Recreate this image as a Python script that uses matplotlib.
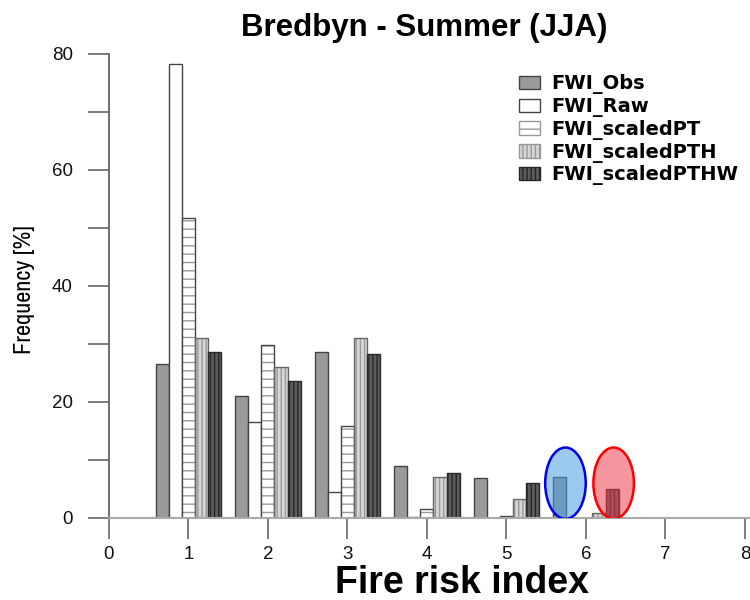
import matplotlib
matplotlib.use("Agg")
import matplotlib.pyplot as plt
from matplotlib.patches import Ellipse, Patch
from matplotlib import font_manager
import numpy as np

plt.rcParams['font.family'] = ['Liberation Sans', 'DejaVu Sans']
plt.rcParams['hatch.linewidth'] = 1.0

# Fire risk index classes
classes = [1, 2, 3, 4, 5, 6]

# Frequency [%] per class for each series
fwi_obs = [26.5, 21.0, 28.7, 8.9, 6.9, 7.0]
fwi_raw = [78.3, 16.6, 4.5, 0.15, 0.0, 0.0]
fwi_scaled_pt = [51.8, 29.8, 15.9, 1.5, 0.4, 0.0]
fwi_scaled_pth = [31.0, 26.1, 31.0, 7.0, 3.3, 0.9]
fwi_scaled_pthw = [28.7, 23.7, 28.3, 7.8, 6.0, 5.0]

series_names = ['FWI_Obs', 'FWI_Raw', 'FWI_scaledPT', 'FWI_scaledPTH', 'FWI_scaledPTHW']

fig = plt.figure(figsize=(7.5, 6), dpi=100)
ax = fig.add_axes([0.1453, 0.1367, 0.848, 0.7733])

x = np.array(classes, dtype=float)
w = 0.164
# (face, hatch colour, hatch, outline)
styles = [
    ('#9a9a9a', None, None, '#444444'),
    ('white', None, None, '#444444'),
    ('white', '#9a9a9a', '--', '#444444'),
    ('#d6d6d6', '#999999', '||||', '#666666'),
    ('#5c5c5c', '#262626', '||||', '#2a2a2a'),
]
data = [fwi_obs, fwi_raw, fwi_scaled_pt, fwi_scaled_pth, fwi_scaled_pthw]
handles = []
for i, (vals, (fc, hc, hatch, ec), name) in enumerate(zip(data, styles, series_names)):
    pos = x + (i - 2) * w
    if hatch:
        ax.bar(pos, vals, width=w, facecolor=fc, edgecolor=hc, hatch=hatch,
               linewidth=0, zorder=2)
        ax.bar(pos, vals, width=w, facecolor='none', edgecolor=ec, linewidth=1.0, zorder=2.5)
    else:
        ax.bar(pos, vals, width=w, facecolor=fc, edgecolor=ec, linewidth=1.0, zorder=2)
    handles.append(Patch(facecolor=fc, edgecolor=hc if hatch else ec, hatch=hatch,
                         linewidth=1.0, label=name))

# highlight the two tail bars in class 6
blue_x = x[5] - 2 * w + 0.07
red_x = x[5] + 2 * w + 0.02
for cx, fill, edge in [(blue_x, '#4a9fe0', '#0000ee'), (red_x, '#f0404f', '#ff0000')]:
    ax.add_patch(Ellipse((cx, 6.0), 0.51, 12.3, facecolor=fill, alpha=0.55,
                         edgecolor='none', zorder=3))
    ax.add_patch(Ellipse((cx, 6.0), 0.51, 12.3, facecolor='none',
                         edgecolor=edge, linewidth=1.8, zorder=4))

ax.set_xlim(0, 8)
ax.set_ylim(0, 80)
ax.set_xticks(range(0, 9))
ax.set_yticks(range(0, 81, 10))
ax.set_yticklabels(['0', '', '20', '', '40', '', '60', '', '80'])
ax.tick_params(axis='both', direction='out', length=15, width=1.2, color='#666666',
               labelsize=13.5, labelcolor='#111111')
ax.tick_params(axis='y', pad=11)
ax.tick_params(axis='x', pad=5)
for s in ['top', 'right']:
    ax.spines[s].set_visible(False)
ax.spines['left'].set_color('#555555')
ax.spines['left'].set_linewidth(1.2)
ax.spines['bottom'].set_color('#aaaaaa')
ax.spines['bottom'].set_linewidth(1.5)
ax.spines['bottom'].set_bounds(0, 8.1)

fig.text(0.565, 0.953, 'Bredbyn - Summer (JJA)', ha='center', va='center',
         fontsize=22.5, fontweight='bold')
fig.text(0.616, 0.028, 'Fire risk index', ha='center', va='center',
         fontsize=27, fontweight='bold')

narrow = [f.name for f in font_manager.fontManager.ttflist if 'Narrow' in f.name]
ylab_family = [narrow[0], 'DejaVu Sans'] if narrow else ['DejaVu Sans']
fig.text(0.033, 0.517, 'Frequency [%]', ha='center', va='center', rotation=90,
         fontsize=17.5 if narrow else 13, fontweight='bold', family=ylab_family)

leg = fig.legend(handles=handles, loc='upper left', bbox_to_anchor=(0.692, 0.876),
                 bbox_transform=fig.transFigure, frameon=False, borderpad=0,
                 borderaxespad=0, handlelength=1.1, handleheight=0.7,
                 labelspacing=0.14, handletextpad=0.55,
                 prop={'family': ['DejaVu Sans'], 'weight': 'bold', 'size': 14})

fig.savefig('out.png', dpi=100)
